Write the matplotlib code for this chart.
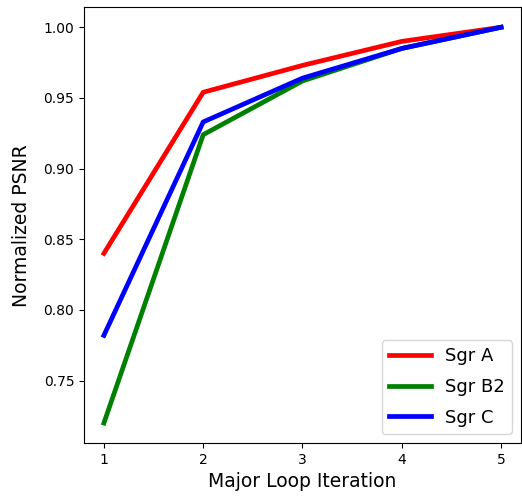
import matplotlib
matplotlib.use("Agg")
import matplotlib.pyplot as plt

iterations = [1, 2, 3, 4, 5]
sgr_a = [0.840, 0.954, 0.973, 0.990, 1.000]
sgr_b2 = [0.720, 0.924, 0.962, 0.985, 1.000]
sgr_c = [0.782, 0.933, 0.964, 0.985, 1.000]

fig = plt.figure(figsize=(5.22, 4.97), dpi=100)
ax = fig.add_subplot(111)
fig.subplots_adjust(left=0.161, right=0.998, top=0.985, bottom=0.109)

ax.plot(iterations, sgr_a, color="red", linewidth=3.4, label="Sgr A")
ax.plot(iterations, sgr_b2, color="green", linewidth=3.4, label="Sgr B2")
ax.plot(iterations, sgr_c, color="blue", linewidth=3.4, label="Sgr C")

ax.set_xticks(iterations)
ax.set_xlabel("Major Loop Iteration", fontsize=13.5)
ax.set_ylabel("Normalized PSNR", fontsize=13.5, labelpad=9)
ax.legend(loc="lower right", fontsize=13, handlelength=2.3, labelspacing=0.7)

fig.savefig("out.png", dpi=100)
